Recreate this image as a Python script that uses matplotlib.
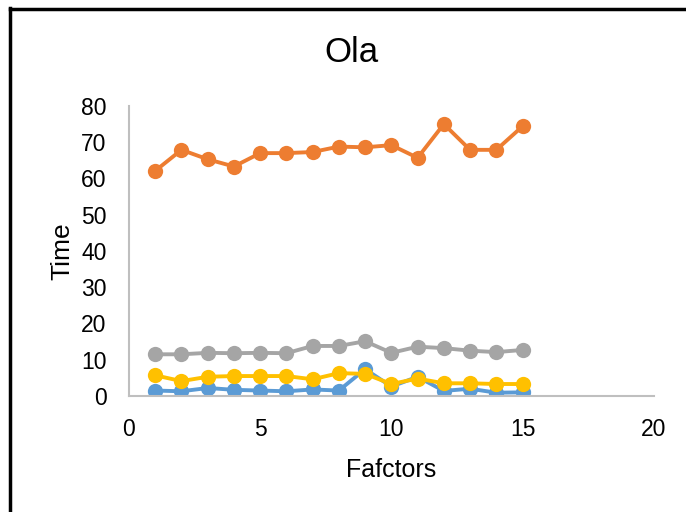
import matplotlib
matplotlib.use("Agg")
import matplotlib.pyplot as plt
from matplotlib.lines import Line2D

plt.rcParams['font.family'] = ['Liberation Sans', 'DejaVu Sans']

# data
factors = [1, 2, 3, 4, 5, 6, 7, 8, 9, 10, 11, 12, 13, 14, 15]
serie_bleue = [1.5, 1.3, 2.2, 1.7, 1.5, 1.3, 1.8, 1.5, 7.4, 2.6, 5.3, 1.4, 2.0, 0.9, 1.0]
serie_orange = [62.1, 67.9, 65.3, 63.3, 67.0, 67.0, 67.3, 68.8, 68.6, 69.2, 65.7, 75.0, 67.9, 67.9, 74.4]
serie_grise = [11.5, 11.5, 11.9, 11.8, 11.9, 11.8, 13.8, 13.8, 15.1, 11.9, 13.6, 13.2, 12.5, 12.1, 12.7]
serie_jaune = [5.7, 4.1, 5.3, 5.5, 5.5, 5.5, 4.6, 6.3, 6.1, 3.3, 4.8, 3.5, 3.5, 3.3, 3.3]

series = [serie_bleue, serie_orange, serie_grise, serie_jaune]
couleurs = ['#5B9BD5', '#ED7D31', '#A5A5A5', '#FFC000']

fig = plt.figure(figsize=(6.86, 5.12), dpi=100)
ax = fig.add_axes([0.188, 0.2266, 0.765, 0.5664])

for valeurs, c in zip(series, couleurs):
    ax.plot(factors, valeurs, color=c, linewidth=2.8, marker='o', markersize=11,
            markeredgewidth=0, solid_capstyle='round')

ax.set_xlim(0, 20)
ax.set_ylim(0, 80)
ax.set_xticks([0, 5, 10, 15, 20])
ax.set_yticks(range(0, 81, 10))
ax.tick_params(length=0, labelsize=16.5, pad=16)
ax.tick_params(axis='x', pad=16)

for s in ['top', 'right']:
    ax.spines[s].set_visible(False)
for s in ['left', 'bottom']:
    ax.spines[s].set_color('#BFBFBF')
    ax.spines[s].set_linewidth(1.5)

ax.set_xlabel('Fafctors', fontsize=18, labelpad=12)
ax.set_ylabel('Time', fontsize=19, labelpad=5)
fig.text(0.513, 0.897, 'Ola', fontsize=25, ha='center', va='center')

# cadre noir autour du graphique
fig.add_artist(Line2D([9.5 / 686, 9.5 / 686], [0, 1 - 8 / 512], color='black', linewidth=2.5,
                      transform=fig.transFigure))
fig.add_artist(Line2D([9.5 / 686, 1], [1 - 8.5 / 512, 1 - 8.5 / 512], color='black', linewidth=2.5,
                      transform=fig.transFigure))

fig.savefig('out.png', dpi=100)
